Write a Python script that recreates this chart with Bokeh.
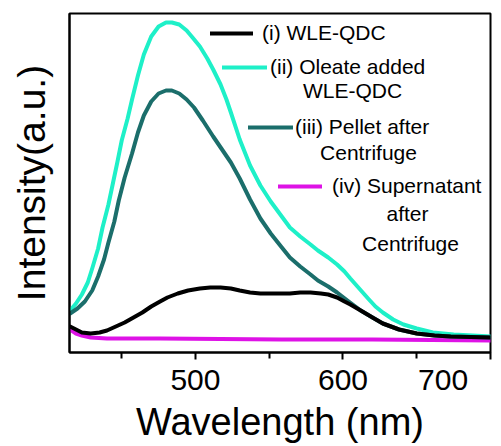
from bokeh.plotting import figure
from bokeh.models import Range1d, FixedTicker, Legend, LegendItem, Label
from bokeh.embed import file_html
from bokeh.resources import INLINE

# Photoluminescence spectra (arbitrary intensity units)
wl_i = [415, 419, 423, 429, 435, 440, 446, 452, 458, 464, 470, 476, 481, 488, 495,
        503, 510, 517, 524, 530, 537, 544, 551, 558, 564, 571, 578, 585, 590, 596,
        601, 605, 612, 620, 627, 638, 650, 662, 673, 700]
int_i = [26, 23, 20, 19, 20, 22, 26, 30, 35, 40, 46, 51, 55, 59, 62,
         64, 65, 65, 64, 62, 60, 59, 59, 59, 59, 60, 60, 59, 58, 55,
         51, 48, 42, 35, 29, 23, 19, 17, 16, 15]

wl_ii = [415, 419, 423, 427, 430, 434, 437, 441, 444, 447, 450, 454, 457, 461, 465,
         470, 475, 480, 484, 489, 494, 498, 503, 508, 512, 517, 521, 524, 530, 537,
         544, 551, 558, 564, 571, 578, 583, 590, 596, 601, 605, 611, 617, 622, 627,
         634, 641, 650, 661, 675, 688, 700]
int_ii = [42, 49, 58, 70, 84, 104, 125, 148, 169, 190, 212, 234, 253, 277, 298,
          316, 326, 330, 330, 328, 322, 315, 306, 294, 283, 268, 253, 240, 213, 187,
          167, 151, 137, 125, 116, 108, 102, 95, 88, 81, 74, 64, 54, 46, 40,
          33, 28, 24, 20, 18, 17, 16]

wl_iii = [415, 420, 425, 430, 434, 438, 441, 445, 448, 452, 457, 461, 465, 470, 475,
          480, 484, 489, 494, 499, 505, 512, 518, 524, 530, 537, 544, 551, 558, 564,
          571, 578, 583, 590, 596, 603, 612, 620, 627, 638, 650, 662, 673, 700]
int_iii = [39, 44, 51, 62, 76, 93, 110, 131, 152, 175, 199, 220, 237, 251, 259,
           262, 262, 259, 253, 245, 232, 216, 203, 190, 174, 153, 134, 119, 106, 95,
           86, 78, 72, 66, 60, 52, 42, 35, 29, 23, 19, 17, 16, 15]

wl_iv = [415, 419, 423, 429, 440, 476, 558, 620, 700]
int_iv = [23, 19, 17, 15, 14, 14, 13, 13, 12]

labels = ["(i) WLE-QDC", "(ii) Oleate added", "(iii) Pellet after", "(iv) Supernatant"]
colors = ["#000000", "#1EF0C8", "#1B6E6B", "#DE12E6"]

x_ticks = [500, 600, 700]
x_minor = [450, 550, 650]
x_title = "Wavelength (nm)"
y_title = "Intensity(a.u.)"

FONT = "Liberation Sans"
X0, X1, Y0, Y1 = 414.6, 700, 0, 339
LEFT, RIGHT, TOP, BOTTOM = 69, 11, 13, 94
W, H = 501, 446
FW = W - LEFT - RIGHT
FH = H - TOP - BOTTOM

p = figure(width=W, height=H, output_backend="svg", toolbar_location=None,
           x_range=Range1d(X0, X1), y_range=Range1d(Y0, Y1),
           min_border_left=LEFT, min_border_right=RIGHT,
           min_border_top=TOP, min_border_bottom=BOTTOM)
p.xgrid.visible = False
p.ygrid.visible = False
p.outline_line_color = "black"
p.outline_line_width = 2
p.outline_line_alpha = 1
p.background_fill_color = "white"
p.border_fill_color = "white"

style = dict(line_width=4, line_join="round", line_cap="round")
r_iv = p.line(wl_iv, int_iv, line_color=colors[3], **style)
r_ii = p.line(wl_ii, int_ii, line_color=colors[1], **style)
r_iii = p.line(wl_iii, int_iii, line_color=colors[2], **style)
r_i = p.line(wl_i, int_i, line_color=colors[0], **style)

xa = p.xaxis[0]
xa.ticker = FixedTicker(ticks=x_ticks, minor_ticks=x_minor)
xa.major_label_overrides = {700: "700\u2007\u2007"}
xa.axis_line_width = 2
xa.major_tick_line_width = 2
xa.minor_tick_line_width = 2
xa.major_tick_in = 0
xa.major_tick_out = 7
xa.minor_tick_in = 0
xa.minor_tick_out = 6
xa.major_label_text_font = FONT
xa.major_label_text_font_size = "30px"
xa.major_label_text_color = "black"
xa.major_label_standoff = 3
xa.axis_label = x_title
xa.axis_label_text_font = FONT
xa.axis_label_text_font_size = "38px"
xa.axis_label_text_font_style = "normal"
xa.axis_label_text_color = "black"
xa.axis_label_standoff = 2

ya = p.yaxis[0]
ya.ticker = FixedTicker(ticks=[])
ya.axis_line_width = 2
ya.major_tick_line_color = None
ya.minor_tick_line_color = None
ya.major_label_text_font_size = "0px"
ya.axis_label = y_title
ya.axis_label_text_font = FONT
ya.axis_label_text_font_size = "39px"
ya.axis_label_text_font_style = "normal"
ya.axis_label_text_color = "black"
ya.axis_label_standoff = 17


def to_data(px, py):
    """Canvas pixel position -> data coordinates of the plot frame."""
    return X0 + (px - LEFT) * (X1 - X0) / FW, Y1 - (py - TOP) * (Y1 - Y0) / FH


# One small legend per curve, stepped to the right like a staircase
ROW = 26
legend_specs = [
    (r_i, labels[0], 210, 33, 43, 9),
    (r_ii, labels[1], 222, 67, 45, 3),
    (r_iii, labels[2], 248, 127, 45, 2),
    (r_iv, labels[3], 278, 186, 44, 10),
]
for rend, text, lx, ly, gw, gap in legend_specs:
    lg = Legend(items=[LegendItem(label=text, renderers=[rend])],
                location=(lx - LEFT, (TOP + FH) - ly - ROW // 2),
                padding=0, margin=0, spacing=0,
                glyph_width=gw, glyph_height=ROW, label_height=ROW,
                label_standoff=gap,
                label_text_font=FONT, label_text_font_size="21px",
                label_text_color="black",
                background_fill_alpha=0, border_line_alpha=0)
    p.add_layout(lg)

# Continuation lines of the legend texts
extra = [("WLE-QDC", 352, 90), ("Centrifuge", 368, 152),
         ("after", 407, 213), ("Centrifuge", 410, 243)]
for text, cx, cy in extra:
    x, y = to_data(cx, cy)
    p.add_layout(Label(x=x, y=y, text=text, text_font=FONT, text_font_size="21px",
                       text_color="black", text_align="center", text_baseline="middle"))

open("out.html", "w").write(file_html(p, INLINE))
